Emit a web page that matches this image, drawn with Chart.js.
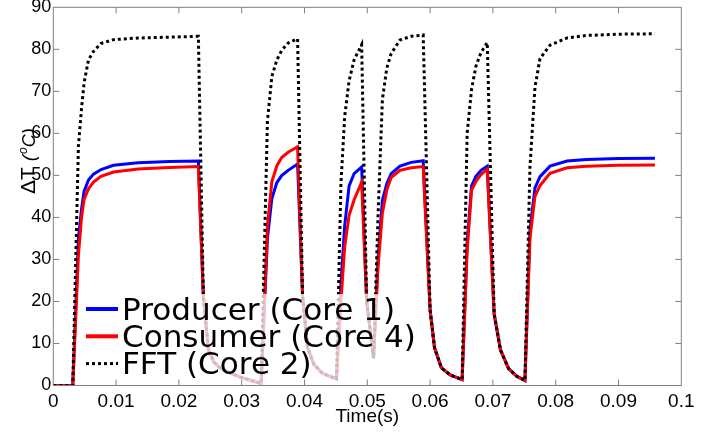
<!DOCTYPE html>
<html>
<head>
<meta charset="utf-8">
<script src="https://cdn.jsdelivr.net/npm/chart.js"></script>
<style>
  html, body { margin: 0; padding: 0; background: #fff; }
</style>
</head>
<body>
<canvas id="tempChart" width="704" height="435"></canvas>
<script>
// time samples (s) shared by the three series
const timeS = [
    0, 0.0031,
    0.0040, 0.0045, 0.0049, 0.0056, 0.0064, 0.0076, 0.0096, 0.0135, 0.0185, 0.0231,
    0.0239, 0.0247, 0.0256, 0.0267, 0.0281, 0.0298, 0.0315, 0.0331,
    0.0341, 0.0348, 0.0356, 0.0364, 0.0374, 0.0389,
    0.0397, 0.0405, 0.0415, 0.0428, 0.0440, 0.0451,
    0.0458, 0.0464, 0.0471, 0.0479, 0.0491,
    0.0499, 0.0510,
    0.0517, 0.0524, 0.0531, 0.0538, 0.0552, 0.0570, 0.0589,
    0.0600, 0.0607, 0.0618, 0.0632, 0.0651,
    0.0659, 0.0666, 0.0673, 0.0681, 0.0691,
    0.0702, 0.0712, 0.0725, 0.0738, 0.0751,
    0.0759, 0.0767, 0.0775, 0.0791, 0.0818, 0.0849, 0.0900, 0.0958
];

const producer = [
    0, 0,
    35, 42, 46.2, 48.9, 50.3, 51.4, 52.4, 53.0, 53.3, 53.4,
    21, 8.5, 5.5, 4.0, 3.0, 2.0, 1.2, 0.5,
    35, 44.5, 48.3, 50.0, 51.2, 52.7,
    21, 9.0, 5.0, 3.0, 2.2, 1.6,
    24, 38, 47.5, 50.4, 52.0,
    20, 6.5,
    30, 44, 48, 50.4, 52.2, 53.1, 53.5,
    18, 9, 4.2, 2.5, 1.4,
    34, 47.5, 49.8, 51.2, 52.2,
    17, 8.5, 4.0, 2.2, 1.2,
    37, 47, 49.7, 52.2, 53.4, 53.8, 54.0, 54.1
];

const consumer = [
    0, 0,
    31, 40, 44.3, 46.8, 48.4, 49.8, 50.8, 51.5, 51.9, 52.1,
    21, 8.5, 5.5, 4.0, 3.0, 2.0, 1.2, 0.5,
    38, 48.5, 52.3, 54.3, 55.5, 56.8,
    21, 9.0, 5.0, 3.0, 2.2, 1.6,
    20, 33, 40.5, 44.2, 48.4,
    20, 6.5,
    28, 41, 46.5, 49.5, 51.2, 51.8, 52.1,
    18, 9, 4.2, 2.5, 1.4,
    32, 46.5, 48.6, 50.2, 51.5,
    17, 8.5, 4.0, 2.2, 1.2,
    35, 45, 47.6, 50.5, 51.8, 52.2, 52.4, 52.5
];

const fft = [
    0, 0,
    57, 66, 72, 77.5, 79.5, 81.4, 82.3, 82.7, 82.9, 83.1,
    21, 8.5, 5.5, 4.0, 3.0, 2.0, 1.2, 0.5,
    63, 73.5, 77.5, 79.8, 81.5, 82.5,
    21, 9.0, 5.0, 3.0, 2.2, 1.6,
    48, 64, 72.5, 77.5, 81.1,
    20, 6.5,
    40, 68, 75.5, 79, 82.2, 83.1, 83.4,
    18, 9, 4.2, 2.5, 1.4,
    60, 70.5, 76, 79.2, 81.6,
    17, 8.5, 4.0, 2.2, 1.2,
    52, 71, 77.8, 81, 82.7, 83.3, 83.6, 83.7
];

const xTickLabels = ["0", "0.01", "0.02", "0.03", "0.04", "0.05", "0.06", "0.07", "0.08", "0.09", "0.1"];
const yTickLabels = ["0", "10", "20", "30", "40", "50", "60", "70", "80", "90"];
const seriesNames = ["Producer (Core 1)", "Consumer (Core 4)", "FFT (Core 2)"];

const toPoints = (values) => values.map((v, i) => ({ x: timeS[i], y: v }));

const axisGray = "#808080";
const sans = "'Liberation Sans', Arial, sans-serif";

// matlab style box with inward ticks, plus the y label
const frameTicks = {
    id: "frameTicks",
    afterDraw(chart) {
        const { ctx, chartArea: a } = chart;
        const xs = chart.scales.x;
        const ys = chart.scales.y;
        const len = 6;
        ctx.save();
        ctx.strokeStyle = axisGray;
        ctx.lineWidth = 1;
        ctx.strokeRect(a.left, a.top, a.right - a.left, a.bottom - a.top);
        ctx.beginPath();
        xs.ticks.forEach((t) => {
            const px = xs.getPixelForValue(t.value);
            if (px <= a.left + 1 || px >= a.right - 1) return;
            ctx.moveTo(px, a.bottom);
            ctx.lineTo(px, a.bottom - len);
            ctx.moveTo(px, a.top);
            ctx.lineTo(px, a.top + len);
        });
        ys.ticks.forEach((t) => {
            const py = ys.getPixelForValue(t.value);
            if (py <= a.top + 1 || py >= a.bottom - 1) return;
            ctx.moveTo(a.left, py);
            ctx.lineTo(a.left + len, py);
            ctx.moveTo(a.right, py);
            ctx.lineTo(a.right - len, py);
        });
        ctx.stroke();

        // "ΔT (°C)" with italic unit, read bottom to top
        ctx.translate(35, 194);
        ctx.rotate(-Math.PI / 2);
        ctx.fillStyle = "#000";
        ctx.textBaseline = "alphabetic";
        ctx.textAlign = "left";
        let x = 0;
        ctx.font = "21px " + sans;
        ctx.fillText("\u0394T", x, 0);
        x += ctx.measureText("\u0394T ").width;
        ctx.font = "italic 19px " + sans;
        ctx.fillText("(", x, 0);
        x += ctx.measureText("(").width + 1;
        ctx.font = "italic 12px " + sans;
        ctx.fillText("o", x, -8);
        x += ctx.measureText("o").width;
        ctx.font = "italic 18px " + sans;
        ctx.fillText("C)", x, 0);
        ctx.restore();
    }
};

// legend drawn inside the plot, over the lines with a translucent white box
const legendOverlay = {
    id: "legendOverlay",
    afterDatasetsDraw(chart) {
        const ctx = chart.ctx;
        ctx.save();
        ctx.fillStyle = "rgba(255, 255, 255, 0.75)";
        ctx.fillRect(80, 294, 325, 91);
        ctx.font = "30px 'DejaVu Sans', sans-serif";
        ctx.textBaseline = "alphabetic";
        chart.data.datasets.forEach((ds, i) => {
            const y = 309 + i * 27.3;
            ctx.strokeStyle = ds.borderColor;
            ctx.lineWidth = ds.borderDash ? 3 : 4;
            ctx.setLineDash(ds.borderDash || []);
            ctx.beginPath();
            ctx.moveTo(86, y);
            ctx.lineTo(118, y);
            ctx.stroke();
            ctx.setLineDash([]);
            ctx.fillStyle = "#000";
            ctx.save();
            ctx.translate(122, y + 10.5);
            ctx.scale(1.035, 1);
            ctx.fillText(ds.label, 0, 0);
            ctx.restore();
        });
        ctx.restore();
    }
};

const chart = new Chart(document.getElementById("tempChart"), {
    type: "line",
    data: {
        datasets: [
            {
                label: seriesNames[0],
                data: toPoints(producer),
                borderColor: "#0000ff",
                borderWidth: 3,
                pointRadius: 0,
                tension: 0,
                order: 2
            },
            {
                label: seriesNames[1],
                data: toPoints(consumer),
                borderColor: "#ff0000",
                borderWidth: 3,
                pointRadius: 0,
                tension: 0,
                order: 1
            },
            {
                label: seriesNames[2],
                data: toPoints(fft),
                borderColor: "#000000",
                borderWidth: 3,
                borderDash: [3, 3],
                pointRadius: 0,
                tension: 0,
                order: 0
            }
        ]
    },
    options: {
        responsive: false,
        animation: false,
        devicePixelRatio: 1,
        layout: { padding: { top: 7.3, right: 22.7, left: 0.3, bottom: 0 } },
        plugins: {
            legend: { display: false },
            tooltip: { enabled: false }
        },
        scales: {
            x: {
                type: "linear",
                min: 0,
                max: 0.1,
                afterFit: (scale) => {
                    scale.height = 49.5;
                    scale.paddingLeft = 0;
                    scale.paddingRight = 0;
                },
                afterBuildTicks: (scale) => {
                    scale.ticks = xTickLabels.map((_, i) => ({ value: i * 0.01 }));
                },
                ticks: {
                    color: "#000",
                    font: { family: sans, size: 19 },
                    padding: 5,
                    maxRotation: 0,
                    autoSkip: false,
                    callback: (value, index) => xTickLabels[index]
                },
                grid: { display: false, drawTicks: false },
                border: { display: false },
                title: {
                    display: true,
                    text: "Time(s)",
                    color: "#000",
                    font: { family: sans, size: 19 },
                    padding: { top: 0, bottom: 7 }
                }
            },
            y: {
                min: 0,
                max: 90,
                afterFit: (scale) => {
                    scale.width = 53;
                    scale.paddingTop = 0;
                    scale.paddingBottom = 0;
                },
                afterBuildTicks: (scale) => {
                    scale.ticks = yTickLabels.map((_, i) => ({ value: i * 10 }));
                },
                ticks: {
                    color: "#000",
                    font: { family: sans, size: 18 },
                    padding: 2,
                    autoSkip: false,
                    callback: (value, index) => yTickLabels[index]
                },
                grid: { display: false, drawTicks: false },
                border: { display: false }
            }
        }
    },
    plugins: [legendOverlay, frameTicks]
});
</script>
</body>
</html>
